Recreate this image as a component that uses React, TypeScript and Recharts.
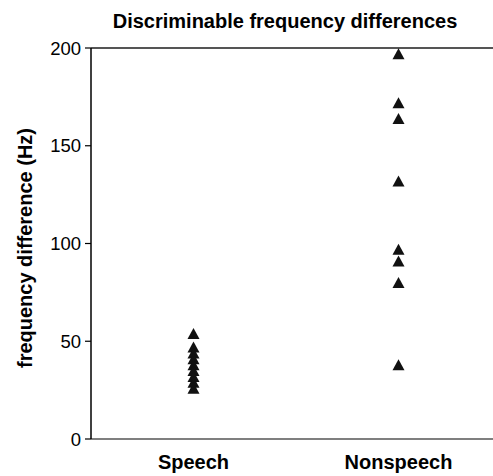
import React from 'react';
import { ScatterChart, Scatter, XAxis, YAxis, ReferenceLine } from 'recharts';

const categories = ['Speech', 'Nonspeech'];
const speechValues = [54, 47, 44, 41, 38, 35, 32, 29, 26];
const nonspeechValues = [197, 172, 164, 132, 97, 91, 80, 38];
const yTicks = [0, 50, 100, 150, 200];
const xPositions = [0.5, 1.5];

const speechData = speechValues.map((v) => ({ x: xPositions[0], y: v }));
const nonspeechData = nonspeechValues.map((v) => ({ x: xPositions[1], y: v }));

const Triangle = (props: any) => {
  const { cx, cy } = props;
  if (cx == null || cy == null) return null;
  const w = 12;
  const h = 11;
  return (
    <path
      d={`M${cx},${cy - h / 2} L${cx + w / 2},${cy + h / 2} L${cx - w / 2},${cy + h / 2} Z`}
      fill="#111"
    />
  );
};

const FONT = '"Liberation Sans", Arial, Helvetica, sans-serif';

export default function App() {
  return (
    <div style={{ position: 'absolute', left: 0, top: 0, width: 493, height: 476, overflow: 'hidden', background: '#fff' }}>
      <ScatterChart width={510} height={476} margin={{ top: 48, right: 9, bottom: 7, left: 0 }}>
        <XAxis
          type="number"
          dataKey="x"
          domain={[0, 2]}
          ticks={xPositions}
          tickFormatter={(v: number) => categories[xPositions.indexOf(v)] ?? ''}
          tickLine={false}
          tickSize={0}
          tickMargin={16}
          height={30}
          stroke="#000"
          tick={{ fill: '#000', fontSize: 20, fontWeight: 'bold', fontFamily: FONT }}
          axisLine={{ stroke: '#000', strokeWidth: 1.2 }}
        />
        <YAxis
          type="number"
          dataKey="y"
          domain={[0, 200]}
          ticks={yTicks}
          width={91}
          tickSize={6}
          tickMargin={4}
          stroke="#000"
          tick={{ fill: '#000', fontSize: 18.5, fontFamily: FONT }}
          axisLine={{ stroke: '#000', strokeWidth: 1.5 }}
          tickLine={{ stroke: '#000', strokeWidth: 1.2 }}
        />
        <ReferenceLine y={200} stroke="#555" strokeWidth={2} />
        <Scatter data={speechData} shape={<Triangle />} isAnimationActive={false} />
        <Scatter data={nonspeechData} shape={<Triangle />} isAnimationActive={false} />
        <text x={285} y={28} textAnchor="middle" fontFamily={FONT} fontSize={20} fontWeight="bold" fill="#000">
          Discriminable frequency differences
        </text>
        <text
          x={32}
          y={248}
          textAnchor="middle"
          transform="rotate(-90 32 248)"
          fontFamily={FONT}
          fontSize={20}
          fontWeight="bold"
          fill="#000"
        >
          frequency difference (Hz)
        </text>
      </ScatterChart>
    </div>
  );
}
